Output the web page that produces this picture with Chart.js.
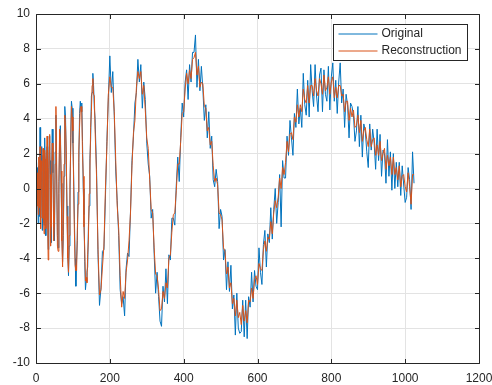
<!DOCTYPE html>
<html>
<head>
<meta charset="utf-8">
<script src="https://cdn.jsdelivr.net/npm/chart.js@4.4.0/dist/chart.umd.min.js"></script>
<style>
  html, body { margin: 0; padding: 0; background: #fff; }
  #wrap { width: 492px; height: 385px; }
</style>
</head>
<body>
<div id="wrap"><canvas id="plot" width="492" height="385"></canvas></div>
<script>
// sample index (x) for every plotted value
const xs = [
  0, 1, 2, 3, 4, 5, 6, 7, 8, 9,
  10, 11, 12, 13, 14, 15, 16, 17, 18, 19,
  20, 21, 22, 23, 24, 25, 26, 27, 28, 29,
  30, 31, 32, 33, 34, 35, 36, 37, 38, 39,
  40, 41, 42, 44, 46, 48, 50, 52, 54, 56,
  58, 60, 62, 64, 66, 68, 70, 72, 74, 76,
  78, 80, 82, 84, 86, 88, 90, 92, 94, 96,
  98, 100, 102, 104, 106, 108, 110, 112, 114, 116,
  118, 120, 122, 124, 126, 128, 130, 132, 134, 136,
  138, 140, 142, 144, 146, 148, 150, 152, 154, 156,
  158, 160, 164, 168, 172, 176, 180, 184, 188, 192,
  196, 200, 204, 208, 212, 216, 220, 224, 228, 232,
  236, 240, 244, 248, 252, 256, 260, 264, 268, 272,
  276, 280, 284, 288, 292, 296, 300, 304, 308, 312,
  316, 320, 324, 328, 332, 336, 340, 344, 348, 352,
  356, 360, 364, 368, 372, 376, 380, 384, 388, 392,
  396, 400, 404, 408, 412, 416, 420, 424, 428, 432,
  436, 440, 444, 448, 452, 456, 460, 464, 468, 472,
  476, 480, 484, 488, 492, 496, 500, 504, 508, 512,
  516, 520, 524, 528, 532, 536, 540, 544, 548, 552,
  556, 560, 564, 568, 572, 576, 580, 584, 588, 592,
  596, 600, 604, 608, 612, 616, 620, 624, 628, 632,
  636, 640, 644, 648, 652, 656, 660, 664, 668, 672,
  676, 680, 684, 688, 692, 696, 700, 704, 708, 712,
  716, 720, 724, 728, 732, 736, 740, 744, 748, 752,
  756, 760, 764, 768, 772, 776, 780, 784, 788, 792,
  796, 800, 804, 808, 812, 816, 820, 824, 828, 832,
  836, 840, 844, 848, 852, 856, 860, 864, 868, 872,
  876, 880, 884, 888, 892, 896, 900, 904, 908, 912,
  916, 920, 924, 928, 932, 936, 940, 944, 948, 952,
  956, 960, 964, 968, 972, 976, 980, 984, 988, 992,
  996, 1000, 1004, 1008, 1012, 1016, 1020, 1024
];

const original = [
  0.3, -0.4, 1.5, -0.6, 1.2, 0.4, -2.0, 1.0, 1.3, -1.6,
  0.9, 3.5, -0.9, -1.7, 0.4, 2.4, 0.6, -2.4, -0.8, 1.9,
  1.5, -1.3, -2.1, 0.2, 2.9, 1.0, -1.8, -2.7, -0.9, 1.9,
  2.4, 2.0, -1.2, -3.5, -2.8, 0.5, 3.0, 2.6, 1.6, -2.2,
  -2.7, -3.1, 0.1, 3.4, 0.9, -2.4, -3.0, 2.1, 4.2, 0.6,
  -2.7, -3.4, -0.3, 2.9, 3.6, 0.3, -2.4, -4.2, -2.7, 0.7,
  4.7, 4.1, 1.5, -1.0, -3.5, -5.0, -3.3, -0.6, 2.9, 5.0,
  4.6, 2.6, 0.8, -1.8, -4.0, -5.6, -4.1, -3.0, -0.2, 1.5,
  4.3, 5.0, 4.4, 4.9, 2.7, 0.0, -1.5, -4.2, -5.8, -5.3,
  -4.8, -4.5, -2.2, -1.0, 1.7, 2.8, 5.3, 5.5, 6.6, 5.9,
  4.6, 4.0, 1.1, -3.8, -6.7, -5.7, -3.6, -3.5, -0.6, 2.7,
  5.2, 7.6, 5.5, 6.7, 4.2, 1.0, -0.7, -2.7, -5.8, -6.6,
  -6.2, -7.3, -4.6, -3.7, -3.9, -1.3, 1.6, 3.0, 4.9, 5.5,
  7.4, 6.1, 7.1, 4.6, 6.1, 5.1, 2.6, 1.4, 0.7, -1.7,
  -1.2, -3.7, -6.0, -4.8, -6.2, -7.6, -7.9, -5.6, -6.5, -4.6,
  -6.6, -3.8, -4.1, -1.7, -1.7, -2.1, 0.2, 1.8, 0.4, 2.9,
  4.9, 4.1, 6.1, 6.8, 5.1, 7.1, 6.1, 7.8, 7.8, 8.8,
  5.8, 7.4, 5.6, 7.0, 5.7, 3.9, 4.8, 2.9, 4.4, 2.3,
  3.0, 0.5, 0.1, 1.1, 0.4, -2.3, -1.2, -1.6, -4.1, -3.5,
  -5.8, -4.2, -5.9, -4.4, -6.9, -6.1, -8.4, -6.0, -8.0, -8.3,
  -8.2, -6.4, -8.5, -6.4, -8.6, -6.2, -6.8, -4.8, -6.5, -4.7,
  -5.6, -5.8, -3.4, -4.8, -5.5, -3.2, -2.4, -4.5, -2.6, -3.1,
  -1.1, -2.9, -1.2, 0.0, -2.0, -0.8, 0.8, -2.2, 1.6, 0.6,
  0.6, 3.0, 1.9, 3.9, 2.9, 1.9, 4.3, 3.5, 5.7, 3.7,
  4.6, 3.5, 6.6, 4.8, 4.2, 6.2, 4.1, 7.1, 5.6, 4.7,
  7.1, 5.3, 4.4, 6.5, 6.9, 4.4, 6.8, 5.4, 5.0, 7.0,
  4.5, 6.4, 7.2, 5.0, 6.2, 4.3, 6.1, 7.2, 4.9, 5.7,
  3.5, 5.4, 4.8, 2.9, 4.9, 4.7, 4.2, 2.7, 3.3, 4.7,
  2.4, 4.2, 1.8, 3.7, 3.3, 2.1, 1.2, 3.7, 2.2, 3.4,
  2.6, 1.1, 3.4, 1.6, 3.1, 0.7, 2.2, 2.0, 0.3, 2.8,
  0.7, 2.1, -0.1, 2.0, 0.0, 1.5, 0.1, 1.5, -0.4, 1.3,
  0.2, -0.8, -0.5, 1.2, 0.5, -1.2, 2.1, 0.3
];

const reconstruction = [
  0.7, 0.2, 1.1, -1.0, 0.5, 0.9, -1.5, 0.3, 1.8, -1.1,
  0.2, 2.4, -0.2, -2.3, 1.0, 1.6, 1.2, -1.7, -1.6, 2.3,
  0.7, -1.9, -2.6, 0.9, 2.2, 1.7, -1.0, -2.3, -1.7, 1.2,
  3.0, 1.1, -1.8, -4.1, -2.0, 1.2, 2.2, 3.1, 0.8, -1.3,
  -3.3, -2.2, 0.6, 2.6, 1.6, -3.0, -2.0, 1.4, 4.7, 1.3,
  -3.3, -3.6, 0.4, 3.4, 2.9, 1.0, -3.0, -4.5, -2.1, 1.4,
  4.2, 3.6, 2.2, -1.6, -4.0, -4.8, -2.7, 0.2, 2.2, 4.7,
  4.1, 3.3, 0.1, -2.5, -4.4, -4.7, -4.7, -2.3, -0.9, 2.2,
  3.5, 4.6, 4.7, 4.4, 2.0, 0.7, -2.2, -3.4, -5.3, -5.1,
  -5.4, -3.8, -2.9, -0.3, 1.0, 3.5, 4.4, 5.9, 6.3, 5.4,
  5.3, 3.4, 0.7, -3.5, -6.1, -5.8, -4.5, -3.3, -0.1, 2.4,
  5.4, 6.4, 5.8, 5.8, 4.4, 1.6, -1.0, -2.3, -5.0, -6.8,
  -5.9, -6.3, -4.8, -4.1, -3.0, -1.4, 1.3, 3.2, 3.9, 5.8,
  6.7, 6.3, 6.7, 5.4, 5.9, 4.5, 2.9, 2.3, 0.5, -1.2,
  -1.4, -3.4, -4.9, -5.0, -5.8, -7.0, -6.9, -5.9, -6.3, -5.4,
  -5.7, -4.0, -3.8, -2.5, -1.5, -1.4, -0.1, 1.4, 1.4, 2.7,
  4.3, 4.4, 5.7, 6.6, 6.0, 6.8, 6.3, 7.4, 7.5, 7.8,
  6.5, 7.0, 5.8, 6.1, 6.0, 4.7, 4.6, 3.3, 3.5, 2.5,
  2.7, 1.3, 0.4, 0.6, 0.2, -1.4, -1.5, -1.8, -3.4, -3.6,
  -4.9, -4.5, -5.7, -5.4, -6.6, -6.3, -7.3, -6.4, -7.4, -7.1,
  -7.8, -6.7, -7.6, -7.0, -7.7, -6.4, -6.5, -5.7, -6.3, -5.2,
  -5.0, -5.5, -4.3, -4.6, -4.7, -3.5, -3.0, -3.6, -2.8, -2.9,
  -1.9, -2.6, -1.4, -0.7, -1.1, -0.5, 0.6, 0.0, 1.2, 0.8,
  1.5, 2.7, 2.1, 3.1, 3.2, 2.8, 4.1, 3.8, 4.8, 4.1,
  4.8, 4.4, 5.7, 5.1, 4.9, 5.9, 4.9, 5.9, 5.9, 5.3,
  6.3, 5.6, 5.3, 6.3, 6.0, 5.4, 6.5, 5.6, 5.8, 6.4,
  5.4, 6.1, 6.4, 5.2, 5.8, 5.2, 5.9, 5.9, 5.3, 5.4,
  4.4, 5.0, 5.0, 3.9, 4.6, 4.1, 4.5, 3.5, 3.6, 4.2,
  3.2, 3.9, 2.7, 3.3, 3.5, 2.8, 2.4, 3.4, 2.4, 2.8,
  2.9, 1.9, 2.5, 1.9, 2.7, 1.6, 2.0, 2.3, 1.1, 1.9,
  1.3, 1.8, 0.8, 1.8, 0.8, 1.2, 0.5, 1.3, 0.1, 0.7,
  0.8, 0.1, -0.2, 0.9, 0.1, -0.9, 0.8, 0.8
];

const xTicks = [0, 200, 400, 600, 800, 1000, 1200];
const yTicks = [-10, -8, -6, -4, -2, 0, 2, 4, 6, 8, 10];
const names = ["Original", "Reconstruction"];

const BLUE = "#0072BD";
const ORANGE = "#D95319";
const INK = "#262626";
const FONT = "'Liberation Sans', Arial, sans-serif";

function pts(ys) {
  return xs.map((x, i) => ({ x: x, y: ys[i] }));
}

// box, inward ticks and the legend, MATLAB style
const frame = {
  id: "frame",
  afterDraw(chart) {
    const ctx = chart.ctx;
    const a = chart.chartArea;
    const sx = chart.scales.x, sy = chart.scales.y;
    const L = Math.round(a.left) + 0.5, R = Math.round(a.right) + 0.5;
    const T = Math.round(a.top) + 0.5, B = Math.round(a.bottom) + 0.5;
    const tl = 4.5;
    ctx.save();
    ctx.strokeStyle = INK;
    ctx.lineWidth = 1;
    ctx.beginPath();
    ctx.rect(L, T, R - L, B - T);
    xTicks.forEach(v => {
      const p = Math.round(sx.getPixelForValue(v)) + 0.5;
      ctx.moveTo(p, B); ctx.lineTo(p, B - tl);
      ctx.moveTo(p, T); ctx.lineTo(p, T + tl);
    });
    yTicks.forEach(v => {
      const p = Math.round(sy.getPixelForValue(v)) + 0.5;
      ctx.moveTo(L, p); ctx.lineTo(L + tl, p);
      ctx.moveTo(R, p); ctx.lineTo(R - tl, p);
    });
    ctx.stroke();

    // legend
    const bx = 333.5, by = 24.5, bw = 134, bh = 36;
    ctx.fillStyle = "#fff";
    ctx.fillRect(bx, by, bw, bh);
    ctx.strokeStyle = INK;
    ctx.strokeRect(bx, by, bw, bh);
    const cols = [BLUE, ORANGE];
    ctx.font = "12px " + FONT;
    ctx.textBaseline = "middle";
    ctx.textAlign = "left";
    names.forEach((n, i) => {
      const yy = by + 9.5 + i * 17;
      ctx.strokeStyle = cols[i];
      ctx.beginPath();
      ctx.moveTo(bx + 5, yy);
      ctx.lineTo(bx + 44, yy);
      ctx.stroke();
      ctx.fillStyle = INK;
      ctx.fillText(n, bx + 48, yy);
    });
    ctx.restore();
  }
};

new Chart(document.getElementById("plot"), {
  type: "line",
  data: {
    datasets: [
      { label: names[0], data: pts(original), borderColor: BLUE, borderWidth: 1, order: 1 },
      { label: names[1], data: pts(reconstruction), borderColor: ORANGE, borderWidth: 1, order: 0 }
    ]
  },
  options: {
    responsive: false,
    animation: false,
    devicePixelRatio: 1,
    elements: { point: { radius: 0 }, line: { tension: 0 } },
    layout: { padding: { top: 14, right: 13, left: 0, bottom: 0 } },
    plugins: { legend: { display: false }, tooltip: { enabled: false } },
    scales: {
      x: {
        type: "linear",
        min: 0, max: 1200,
        afterBuildTicks: s => { s.ticks = xTicks.map(v => ({ value: v })); },
        afterFit: s => { s.height = 22; s.paddingLeft = 0; s.paddingRight = 0; },
        grid: { color: "#e3e3e3", drawTicks: false },
        border: { display: false },
        ticks: { color: INK, font: { family: FONT, size: 12 }, padding: 8, maxRotation: 0, callback: v => String(v) }
      },
      y: {
        min: -10, max: 10,
        afterBuildTicks: s => { s.ticks = yTicks.map(v => ({ value: v })); },
        afterFit: s => { s.width = 36; s.paddingTop = 0; s.paddingBottom = 0; },
        grid: { color: "#e3e3e3", drawTicks: false },
        border: { display: false },
        ticks: { color: INK, font: { family: FONT, size: 12 }, padding: 6, callback: v => String(v) }
      }
    }
  },
  plugins: [frame]
});
</script>
</body>
</html>
